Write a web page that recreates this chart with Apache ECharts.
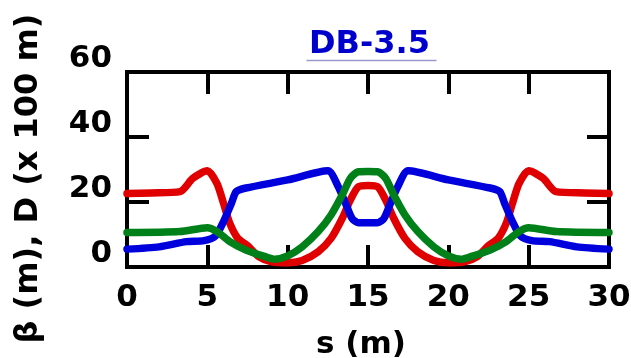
<!DOCTYPE html>
<html>
<head>
<meta charset="utf-8">
<script src="https://cdn.jsdelivr.net/npm/echarts@6/dist/echarts.min.js"></script>
<style>
html,body{margin:0;padding:0;background:#fff;}
#chart{width:631px;height:358px;}
</style>
</head>
<body>
<div id="chart"></div>
<script>
// ---- data ----
const titleText = "DB-3.5";
const xName = "s (m)";
const yName = "β (m), D (x 100 m)";
const xTicks = [0, 5, 10, 15, 20, 25, 30];
const yTicks = [0, 20, 40, 60];

const sRed = [0, 1.5, 3.3, 4.1, 5.0, 5.6, 6.0, 6.4, 6.9, 7.5, 8.2, 9.0, 10.0, 10.9, 11.9, 12.7, 13.4, 13.9, 14.4, 15.0,
              15.6, 16.1, 16.6, 17.3, 18.1, 19.1, 20.0, 21.0, 21.8, 22.5, 23.1, 23.6, 24.0, 24.4, 25.0, 25.9, 26.7, 28.5, 30];
const red  = [22.6, 22.8, 23.2, 27.3, 29.6, 25.7, 19.7, 13.4, 8.8, 6.6, 3.2, 1.6, 1.3, 2.0, 4.7, 8.8, 15.0, 20.6, 24.7, 25.1,
              24.7, 20.6, 15.0, 8.8, 4.7, 2.0, 1.3, 1.6, 3.2, 6.6, 8.8, 13.4, 19.7, 25.7, 29.6, 27.3, 23.2, 22.8, 22.6];

const sGreen = [0, 3.3, 5.0, 5.6, 6.4, 7.4, 8.6, 9.2, 10.0, 10.9, 11.9, 12.7, 13.4, 13.9, 14.4, 15.0,
                15.6, 16.1, 16.6, 17.3, 18.1, 19.1, 20.0, 20.8, 21.4, 22.6, 23.6, 24.4, 25.0, 26.7, 30];
const green  = [10.6, 10.9, 12.1, 10.9, 7.8, 5.2, 3.2, 2.4, 3.4, 6.2, 10.9, 16.0, 22.2, 27.3, 29.3, 29.4,
                29.3, 27.3, 22.2, 16.0, 10.9, 6.2, 3.4, 2.4, 3.2, 5.2, 7.8, 10.9, 12.1, 10.9, 10.6];

const sBlue = [0, 2.0, 3.7, 4.8, 5.5, 6.0, 6.5, 6.8, 7.4, 10.0, 12.5, 13.15, 13.6, 14.0, 14.4, 15.0,
               15.6, 16.0, 16.4, 16.85, 17.5, 20.0, 22.6, 23.2, 23.5, 24.0, 24.5, 25.2, 26.3, 28.0, 30];
const blue  = [5.5, 6.2, 7.8, 8.1, 9.5, 13.9, 19.6, 23.2, 24.3, 26.8, 29.6, 24.7, 19.6, 15.0, 13.6, 13.6,
               13.6, 15.0, 19.6, 24.7, 29.6, 26.8, 24.3, 23.2, 19.6, 13.9, 9.5, 8.1, 7.8, 6.2, 5.5];

const zip = (xs, ys) => xs.map((x, i) => [x, ys[i]]);

const FONT = "DejaVu Sans";
const chart = echarts.init(document.getElementById('chart'), null, {renderer: 'canvas'});

const tick = {show: true, inside: true, length: 22, lineStyle: {color: '#000', width: 4}};
const noLine = {show: false, onZero: false};

const lineSeries = (name, data, color) => ({
  name, type: 'line', data, showSymbol: false, smooth: 0.25,
  lineStyle: {color, width: 7.5, cap: 'round', join: 'round'},
  itemStyle: {color}, z: 3, clip: true
});

chart.setOption({
  animation: false,
  backgroundColor: '#fff',
  title: {
    text: titleText, left: 304, top: 24,
    textStyle: {color: '#0000cc', fontFamily: FONT, fontWeight: 'bold', fontSize: 32}
  },
  graphic: [{
    type: 'line', left: 304, top: 58,
    shape: {x1: 0, y1: 0, x2: 130, y2: 0},
    style: {stroke: '#9a9ad0', lineWidth: 1.5}
  }],
  grid: {left: 127, right: 22, top: 72, bottom: 91, outerBoundsMode: 'none', containLabel: false,
         show: true, borderColor: '#000', borderWidth: 4, backgroundColor: 'transparent'},
  xAxis: [{
    type: 'value', min: xTicks[0], max: xTicks[xTicks.length - 1], interval: 5, position: 'bottom',
    axisLine: noLine, splitLine: {show: false}, axisTick: tick,
    axisLabel: {color: '#000', fontFamily: FONT, fontWeight: 'bold', fontSize: 31, margin: 15},
    name: xName, nameLocation: 'middle', nameGap: 62,
    nameTextStyle: {color: '#000', fontFamily: FONT, fontWeight: 'bold', fontSize: 31, padding: [0, 14, 0, 0]}
  }, {
    type: 'value', min: xTicks[0], max: xTicks[xTicks.length - 1], interval: 5, position: 'top',
    axisLine: noLine, splitLine: {show: false}, axisTick: tick, axisLabel: {show: false}
  }],
  yAxis: [{
    type: 'value', min: yTicks[0], max: yTicks[yTicks.length - 1], interval: 20, position: 'left',
    axisLine: noLine, splitLine: {show: false}, axisTick: tick,
    axisLabel: {color: '#000', fontFamily: FONT, fontWeight: 'bold', fontSize: 31, margin: 15, verticalAlign: 'bottom', lineHeight: 26},
    name: yName, nameLocation: 'middle', nameGap: 82, nameRotate: 90,
    nameTextStyle: {color: '#000', fontFamily: FONT, fontWeight: 'bold', fontSize: 32, padding: [0, 18, 0, 0]}
  }, {
    type: 'value', min: yTicks[0], max: yTicks[yTicks.length - 1], interval: 20, position: 'right',
    axisLine: noLine, splitLine: {show: false}, axisTick: tick, axisLabel: {show: false}
  }],
  series: [
    lineSeries('βx', zip(sRed, red), '#e00000'),
    lineSeries('βy', zip(sBlue, blue), '#0000dd'),
    lineSeries('D', zip(sGreen, green), '#008018')
  ]
});
</script>
</body>
</html>
